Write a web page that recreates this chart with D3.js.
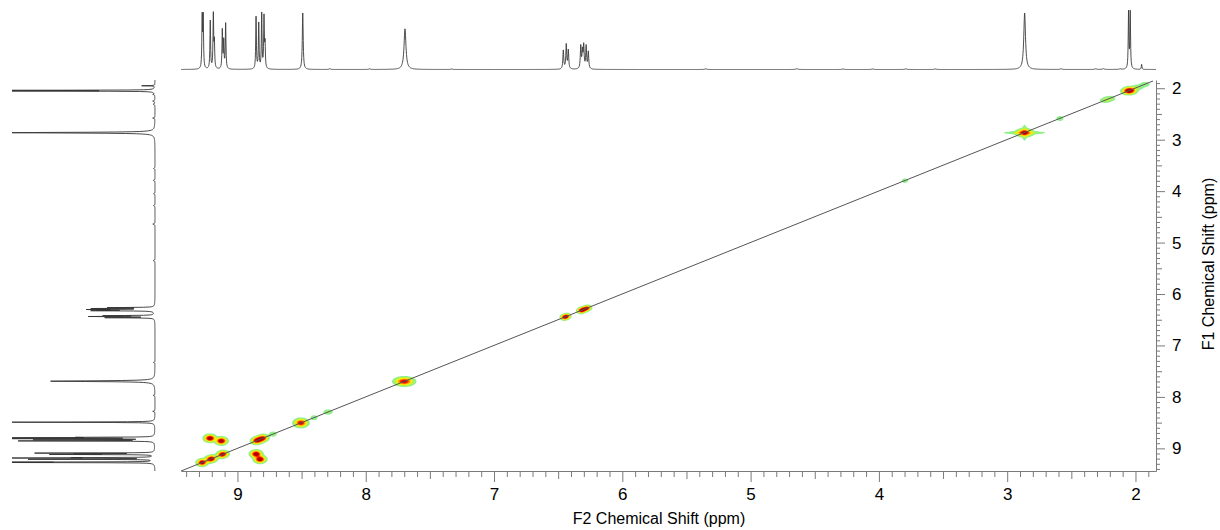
<!DOCTYPE html>
<html><head><meta charset="utf-8">
<script src="https://cdn.jsdelivr.net/npm/d3@7"></script>
<style>
body{margin:0;background:#fff;}
svg{display:block;}
text{font-family:Arial,"Liberation Sans",sans-serif;}
</style>
</head><body>
<svg id="c" width="1220" height="530"></svg>
<script>
// ================= DATA =================
const f2Ticks = [9, 8, 7, 6, 5, 4, 3, 2];
const f1Ticks = [2, 3, 4, 5, 6, 7, 8, 9];
const f2Title = "F2 Chemical Shift (ppm)";
const f1Title = "F1 Chemical Shift (ppm)";
const f2Domain = [9.44, 1.84];
const f1Domain = [9.44, 1.84];

// 1D proton spectrum: line positions (ppm), relative heights, half-widths (ppm)
const linePpm    = [9.275, 9.267, 9.212, 9.188, 9.180, 9.118, 9.107, 9.092,
                    8.855, 8.834, 8.811, 8.793, 8.785, 8.491, 7.694,
                    6.460, 6.437, 6.421, 6.324, 6.311, 6.301, 6.282, 6.265,
                    2.864, 2.054, 2.041, 1.952,
                    8.28, 7.97, 7.33, 5.35, 4.64, 4.28, 4.05, 3.79, 3.56, 2.58, 2.31, 2.25, 2.12];
const lineHeight = [0.90, 0.90, 0.85, 0.95, 0.45, 0.68, 0.48, 0.80,
                    0.92, 0.80, 0.97, 0.90, 0.42, 1.00, 0.72,
                    0.33, 0.43, 0.33, 0.40, 0.30, 0.40, 0.40, 0.30,
                    1.00, 1.00, 1.00, 0.09,
                    0.015, 0.012, 0.010, 0.012, 0.015, 0.010, 0.010, 0.012, 0.010, 0.015, 0.012, 0.015, 0.012];
const lineWidth  = [0.003, 0.003, 0.003, 0.003, 0.003, 0.003, 0.003, 0.003,
                    0.003, 0.003, 0.003, 0.003, 0.003, 0.004, 0.009,
                    0.004, 0.004, 0.004, 0.004, 0.004, 0.004, 0.004, 0.004,
                    0.008, 0.003, 0.003, 0.003,
                    0.006, 0.006, 0.006, 0.008, 0.008, 0.008, 0.008, 0.008, 0.008, 0.006, 0.008, 0.008, 0.006];

// 2D COSY peaks: F2 ppm, F1 ppm, intensity, widths (ppm)
const peakF2  = [9.280, 9.270, 9.216, 9.196, 9.126, 9.106, 8.856, 8.836, 8.816, 8.796,
                 8.723, 8.505, 8.403, 8.294, 7.700,
                 6.455, 6.443, 6.430, 6.325, 6.312, 6.300, 6.284, 6.268,
                 3.797, 2.865, 2.865, 2.865, 2.589, 2.235, 2.200, 2.056, 2.038, 1.980, 1.925,
                 9.222, 9.206, 9.134, 9.118, 8.862, 8.847, 8.832, 8.816];
const peakF1  = [9.280, 9.270, 9.216, 9.196, 9.126, 9.106, 8.856, 8.836, 8.816, 8.796,
                 8.723, 8.505, 8.403, 8.294, 7.700,
                 6.455, 6.443, 6.430, 6.325, 6.312, 6.300, 6.284, 6.268,
                 3.797, 2.865, 2.865, 2.865, 2.589, 2.235, 2.200, 2.056, 2.038, 1.980, 1.925,
                 8.804, 8.804, 8.856, 8.856, 9.110, 9.110, 9.212, 9.212];
const peakAmp = [0.70, 0.70, 0.80, 0.80, 0.80, 0.70, 0.80, 0.80, 0.80, 0.70,
                 0.12, 1.00, 0.10, 0.12, 1.00,
                 0.70, 0.75, 0.65, 0.75, 0.75, 0.75, 0.75, 0.65,
                 0.08, 1.00, 0.16, 0.16, 0.10, 0.12, 0.12, 1.00, 0.90, 0.12, 0.10,
                 0.75, 0.75, 0.75, 0.75, 0.75, 0.75, 0.75, 0.75];
const peakW2  = [0.019, 0.019, 0.019, 0.019, 0.019, 0.019, 0.019, 0.019, 0.019, 0.019,
                 0.018, 0.026, 0.018, 0.022, 0.036,
                 0.014, 0.014, 0.014, 0.014, 0.014, 0.014, 0.014, 0.014,
                 0.018, 0.030, 0.090, 0.010, 0.018, 0.026, 0.026, 0.024, 0.024, 0.026, 0.024,
                 0.020, 0.020, 0.020, 0.020, 0.020, 0.020, 0.020, 0.020];
const peakW1  = [0.032, 0.032, 0.032, 0.032, 0.032, 0.032, 0.032, 0.032, 0.032, 0.032,
                 0.030, 0.040, 0.030, 0.030, 0.040,
                 0.025, 0.025, 0.025, 0.025, 0.025, 0.025, 0.025, 0.025,
                 0.030, 0.036, 0.018, 0.085, 0.030, 0.030, 0.030, 0.032, 0.032, 0.030, 0.030,
                 0.034, 0.034, 0.034, 0.034, 0.034, 0.034, 0.034, 0.034];

// contour levels (relative intensity)
const levels = [0.03, 0.1, 0.22, 0.4, 0.62, 0.88];
const levelColors = ["#92f08c", "#bdf04a", "#fff000", "#ff9c00", "#ff1e00", "#b00000"];

// ================= DRAW =================
const svg = d3.select("#c");
const plot = {left: 181, right: 1156, top: 80, bottom: 471};
const x = d3.scaleLinear().domain(f2Domain).range([plot.left, plot.right]);
const y = d3.scaleLinear().domain(f1Domain).range([plot.bottom, plot.top]);

function spectrumAt(p) {
  let s = 0;
  for (let i = 0; i < linePpm.length; i++) {
    const d = (p - linePpm[i]) / lineWidth[i];
    s += lineHeight[i] / (1 + d * d);
  }
  return s;
}
function samples(dom, nPx) {
  const lo = Math.min(dom[0], dom[1]), hi = Math.max(dom[0], dom[1]);
  const n = nPx * 4;
  const ps = d3.range(n + 1).map(i => hi - (hi - lo) * i / n);
  linePpm.forEach(p => { if (p > lo && p < hi) ps.push(p); });
  ps.sort((a, b) => b - a);
  return ps.map(p => ({p, v: spectrumAt(p)}));
}

// top projection
const topBase = 69.5, topGain = 56.5;
svg.append("path")
  .datum(samples(f2Domain, plot.right - plot.left))
  .attr("fill", "none").attr("stroke", "#3a3a3a").attr("stroke-width", 0.9)
  .attr("d", d3.line().x(d => x(d.p)).y(d => topBase - topGain * d.v));

// left projection
const leftBase = 155, leftGain = 145, leftClip = 143;
svg.append("path")
  .datum(samples(f1Domain, plot.bottom - plot.top))
  .attr("fill", "none").attr("stroke", "#333").attr("stroke-width", 0.9)
  .attr("d", d3.line().x(d => leftBase - Math.min(leftGain * d.v, leftClip)).y(d => y(d.p)));

// 2D contour grid
const nx = plot.right - plot.left, ny = plot.bottom - plot.top;
const grid = new Float64Array(nx * ny);
const kx = Math.abs(x(0) - x(1)), ky = Math.abs(y(0) - y(1));
for (let k = 0; k < peakF2.length; k++) {
  const cx = x(peakF2[k]) - plot.left, cy = y(peakF1[k]) - plot.top;
  const sx = peakW2[k] * kx, sy = peakW1[k] * ky;
  const i0 = Math.max(0, Math.floor(cx - 4 * sx)), i1 = Math.min(nx - 1, Math.ceil(cx + 4 * sx));
  const j0 = Math.max(0, Math.floor(cy - 4 * sy)), j1 = Math.min(ny - 1, Math.ceil(cy + 4 * sy));
  for (let j = j0; j <= j1; j++) {
    const dy = (j + 0.5 - cy) / sy;
    for (let i = i0; i <= i1; i++) {
      const dx = (i + 0.5 - cx) / sx;
      grid[j * nx + i] += peakAmp[k] * Math.exp(-0.5 * (dx * dx + dy * dy));
    }
  }
}
const contours = d3.contours().size([nx, ny]).thresholds(levels)(grid);
svg.append("g")
  .attr("transform", `translate(${plot.left},${plot.top})`)
  .selectAll("path").data(contours).join("path")
  .attr("d", d3.geoPath())
  .attr("fill", (d, i) => levelColors[i])
  .attr("stroke", "none");

// diagonal
const diagEnds = [f1Domain[0], f1Domain[1]];
svg.append("line")
  .attr("x1", x(diagEnds[0])).attr("y1", y(diagEnds[0]))
  .attr("x2", x(diagEnds[1]) - 3).attr("y2", y(diagEnds[1]) + 1)
  .attr("stroke", "#555").attr("stroke-width", 1);

// axes
const axisColor = "#7a7a7a";
const allTenths = d3.range(18, 95).map(v => v / 10);
const isHalf = v => Math.abs(v * 2 - Math.round(v * 2)) < 1e-6;
const isInt = v => Math.abs(v - Math.round(v)) < 1e-6;
function inDom(dom) { const lo = Math.min(...dom), hi = Math.max(...dom); return v => v >= lo && v <= hi; }

function styleAxis(g) {
  g.selectAll("line").attr("stroke", axisColor);
  g.selectAll("path.domain").attr("stroke", axisColor);
  g.selectAll("text").attr("fill", "#000").style("font-size", "17px")
    .style("font-family", "Arial, 'Liberation Sans', sans-serif");
}

// bottom (F2)
const fx = inDom(f2Domain);
const bx = svg.append("g").attr("transform", `translate(0,${plot.bottom})`);
bx.append("g").call(d3.axisBottom(x).tickValues(allTenths.filter(v => fx(v) && !isHalf(v))).tickSize(6).tickFormat("").tickSizeOuter(0)).call(styleAxis);
bx.append("g").call(d3.axisBottom(x).tickValues(allTenths.filter(v => fx(v) && isHalf(v) && !isInt(v))).tickSize(8).tickFormat("").tickSizeOuter(0)).call(g => g.select(".domain").remove()).call(styleAxis);
bx.append("g").call(d3.axisBottom(x).tickValues(f2Ticks).tickSize(11).tickPadding(6).tickFormat(d3.format("d")).tickSizeOuter(0)).call(g => g.select(".domain").remove()).call(styleAxis);

// right (F1)
const fy = inDom(f1Domain);
const ry = svg.append("g").attr("transform", `translate(${plot.right},0)`);
ry.append("g").call(d3.axisRight(y).tickValues(allTenths.filter(v => fy(v) && !isHalf(v))).tickSize(4).tickFormat("").tickSizeOuter(0)).call(styleAxis);
ry.append("g").call(d3.axisRight(y).tickValues(allTenths.filter(v => fy(v) && isHalf(v) && !isInt(v))).tickSize(6).tickFormat("").tickSizeOuter(0)).call(g => g.select(".domain").remove()).call(styleAxis);
ry.append("g").call(d3.axisRight(y).tickValues(f1Ticks).tickSize(9).tickPadding(7).tickFormat(d3.format("d")).tickSizeOuter(0)).call(g => g.select(".domain").remove()).call(styleAxis);

// titles
svg.append("text")
  .attr("x", 659).attr("y", 524)
  .attr("text-anchor", "middle").style("font-size", "16px").attr("fill", "#000")
  .text(f2Title);
svg.append("text")
  .attr("transform", `translate(1214,264) rotate(-90)`)
  .attr("text-anchor", "middle").style("font-size", "16px").attr("fill", "#000")
  .text(f1Title);
</script>
</body></html>
